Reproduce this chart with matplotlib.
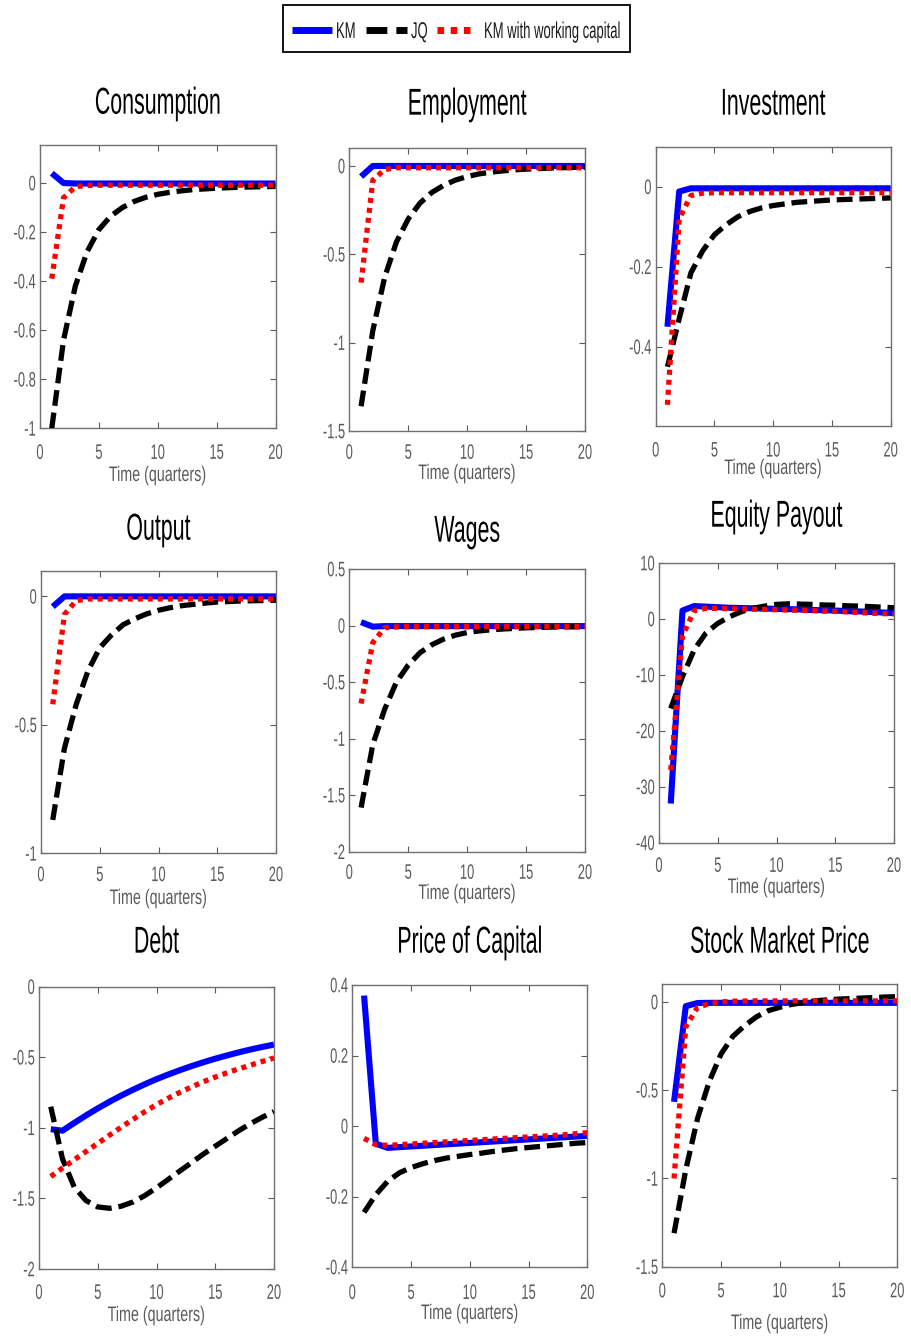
import matplotlib
matplotlib.use("Agg")
import matplotlib.pyplot as plt
from matplotlib import font_manager
from matplotlib.ticker import FuncFormatter
from matplotlib.lines import Line2D
from matplotlib.patches import Rectangle
from matplotlib.patheffects import AbstractPathEffect
from matplotlib.transforms import Affine2D

_names = {f.name for f in font_manager.fontManager.ttflist}
FONT = "Liberation Sans Narrow" if "Liberation Sans Narrow" in _names else "Liberation Sans"
plt.rcParams["font.family"] = [FONT, "DejaVu Sans"]
plt.rcParams["axes.unicode_minus"] = False

# ---------------- data ----------------
quarters = list(range(1, 21))
series_names = ["KM", "JQ", "KM with working capital"]
titles = ["Consumption", "Employment", "Investment",
          "Output", "Wages", "Equity Payout",
          "Debt", "Price of Capital", "Stock Market Price"]
x_label = "Time (quarters)"

consumption_km = [0.04, 0.0, -0.002, -0.002, -0.002, -0.002, -0.002, -0.002, -0.002, -0.002,
                  -0.002, -0.002, -0.002, -0.002, -0.002, -0.002, -0.002, -0.002, -0.002, -0.002]
consumption_jq = [-1.0, -0.64, -0.42, -0.28, -0.19, -0.135, -0.10, -0.075, -0.058, -0.046,
                  -0.038, -0.032, -0.027, -0.024, -0.021, -0.019, -0.017, -0.016, -0.015, -0.014]
consumption_wc = [-0.39, -0.06, -0.015, -0.01, -0.009, -0.009, -0.009, -0.009, -0.009, -0.009,
                  -0.009, -0.009, -0.009, -0.009, -0.009, -0.009, -0.009, -0.009, -0.009, -0.009]

employment_km = [-0.06, 0.0, 0.0, 0.0, 0.0, 0.0, 0.0, 0.0, 0.0, 0.0,
                 0.0, 0.0, 0.0, 0.0, 0.0, 0.0, 0.0, 0.0, 0.0, 0.0]
employment_jq = [-1.36, -0.93, -0.63, -0.43, -0.30, -0.21, -0.15, -0.11, -0.08, -0.06,
                 -0.045, -0.035, -0.028, -0.022, -0.018, -0.015, -0.012, -0.010, -0.008, -0.007]
employment_wc = [-0.66, -0.08, -0.02, -0.01, -0.01, -0.01, -0.01, -0.01, -0.01, -0.01,
                 -0.01, -0.01, -0.01, -0.01, -0.01, -0.01, -0.01, -0.01, -0.01, -0.01]

investment_km = [-0.35, -0.012, -0.004, -0.004, -0.004, -0.004, -0.004, -0.004, -0.004, -0.004,
                 -0.004, -0.004, -0.004, -0.004, -0.004, -0.004, -0.004, -0.004, -0.004, -0.004]
investment_jq = [-0.45, -0.33, -0.215, -0.16, -0.12, -0.095, -0.075, -0.062, -0.053, -0.047,
                 -0.043, -0.039, -0.037, -0.035, -0.033, -0.032, -0.031, -0.030, -0.029, -0.028]
investment_wc = [-0.545, -0.08, -0.022, -0.016, -0.015, -0.015, -0.015, -0.015, -0.015, -0.015,
                 -0.015, -0.015, -0.015, -0.015, -0.015, -0.015, -0.015, -0.015, -0.015, -0.015]

output_km = [-0.04, 0.0, 0.0, 0.0, 0.0, 0.0, 0.0, 0.0, 0.0, 0.0,
             0.0, 0.0, 0.0, 0.0, 0.0, 0.0, 0.0, 0.0, 0.0, 0.0]
output_jq = [-0.87, -0.59, -0.42, -0.29, -0.20, -0.15, -0.11, -0.087, -0.068, -0.054,
             -0.044, -0.036, -0.031, -0.026, -0.022, -0.020, -0.018, -0.017, -0.016, -0.015]
output_wc = [-0.42, -0.07, -0.016, -0.01, -0.01, -0.01, -0.01, -0.01, -0.01, -0.01,
             -0.01, -0.01, -0.01, -0.01, -0.01, -0.01, -0.01, -0.01, -0.01, -0.01]

wages_km = [0.03, -0.01, -0.005, -0.005, -0.005, -0.005, -0.005, -0.005, -0.005, -0.005,
            -0.005, -0.005, -0.005, -0.005, -0.005, -0.005, -0.005, -0.005, -0.005, -0.005]
wages_jq = [-1.61, -1.05, -0.74, -0.50, -0.35, -0.24, -0.17, -0.12, -0.085, -0.062,
            -0.048, -0.038, -0.031, -0.025, -0.02, -0.017, -0.014, -0.012, -0.011, -0.01]
wages_wc = [-0.69, -0.15, -0.02, -0.012, -0.01, -0.01, -0.01, -0.01, -0.01, -0.01,
            -0.01, -0.01, -0.01, -0.01, -0.01, -0.01, -0.01, -0.01, -0.01, -0.01]

payout_km = [-33.0, 1.5, 2.3, 2.2, 2.1, 2.0, 1.95, 1.9, 1.85, 1.8,
             1.75, 1.7, 1.6, 1.55, 1.5, 1.4, 1.35, 1.25, 1.15, 1.05]
payout_jq = [-16.0, -10.3, -5.5, -2.5, -0.8, 0.4, 1.3, 1.9, 2.3, 2.6,
             2.7, 2.65, 2.6, 2.5, 2.45, 2.35, 2.3, 2.2, 2.1, 2.0]
payout_wc = [-27.0, -3.0, 1.5, 1.9, 1.9, 1.85, 1.8, 1.75, 1.7, 1.65,
             1.6, 1.55, 1.5, 1.4, 1.35, 1.25, 1.15, 1.05, 0.95, 0.9]

debt_km = [-1.01, -1.02, -0.965, -0.912, -0.862, -0.815, -0.771, -0.730, -0.691, -0.655,
           -0.622, -0.591, -0.562, -0.535, -0.510, -0.487, -0.465, -0.445, -0.427, -0.41]
debt_jq = [-0.85, -1.22, -1.42, -1.515, -1.56, -1.57, -1.555, -1.525, -1.48, -1.425,
           -1.365, -1.305, -1.245, -1.185, -1.13, -1.075, -1.02, -0.97, -0.925, -0.885]
debt_wc = [-1.345, -1.285, -1.226, -1.168, -1.11, -1.052, -0.995, -0.94, -0.886, -0.835,
           -0.79, -0.748, -0.709, -0.673, -0.64, -0.61, -0.582, -0.556, -0.53, -0.505]

pk_km = [0.37, -0.05, -0.062, -0.06, -0.058, -0.056, -0.054, -0.052, -0.05, -0.048,
         -0.046, -0.044, -0.042, -0.04, -0.038, -0.036, -0.034, -0.032, -0.03, -0.028]
pk_jq = [-0.245, -0.195, -0.157, -0.133, -0.118, -0.107, -0.098, -0.091, -0.086, -0.081,
         -0.077, -0.072, -0.068, -0.064, -0.061, -0.058, -0.055, -0.052, -0.049, -0.047]
pk_wc = [-0.035, -0.053, -0.055, -0.053, -0.051, -0.049, -0.047, -0.045, -0.043, -0.041,
         -0.039, -0.037, -0.035, -0.033, -0.031, -0.029, -0.027, -0.025, -0.022, -0.019]

stock_km = [-0.566, -0.024, -0.006, -0.005, -0.005, -0.005, -0.005, -0.005, -0.005, -0.005,
            -0.005, -0.005, -0.005, -0.005, -0.005, -0.005, -0.005, -0.005, -0.005, -0.005]
stock_jq = [-1.31, -0.95, -0.66, -0.45, -0.295, -0.195, -0.135, -0.085, -0.05, -0.03,
            -0.014, -0.004, 0.006, 0.012, 0.016, 0.019, 0.022, 0.025, 0.028, 0.03]
stock_wc = [-1.0, -0.14, -0.03, -0.01, 0.0, 0.004, 0.005, 0.006, 0.006, 0.006,
            0.006, 0.006, 0.006, 0.006, 0.006, 0.006, 0.006, 0.006, 0.006, 0.006]

panel_data = [
    (consumption_km, consumption_jq, consumption_wc),
    (employment_km, employment_jq, employment_wc),
    (investment_km, investment_jq, investment_wc),
    (output_km, output_jq, output_wc),
    (wages_km, wages_jq, wages_wc),
    (payout_km, payout_jq, payout_wc),
    (debt_km, debt_jq, debt_wc),
    (pk_km, pk_jq, pk_wc),
    (stock_km, stock_jq, stock_wc),
]

y_limits = [(-1, 0.155), (-1.5, 0.1), (-0.598, 0.1),
            (-1, 0.1), (-2, 0.5), (-40, 10),
            (-2, 0), (-0.4, 0.4), (-1.5, 0.1)]
y_ticks = [[-1, -0.8, -0.6, -0.4, -0.2, 0],
           [-1.5, -1, -0.5, 0],
           [-0.4, -0.2, 0],
           [-1, -0.5, 0],
           [-2, -1.5, -1, -0.5, 0, 0.5],
           [-40, -30, -20, -10, 0, 10],
           [-2, -1.5, -1, -0.5, 0],
           [-0.4, -0.2, 0, 0.2, 0.4],
           [-1.5, -1, -0.5, 0]]
x_ticks = [0, 5, 10, 15, 20]


# ---------------- tall, narrow text rendering (text stays real text) ----------------
class Stretch(AbstractPathEffect):
    """Draw a text stretched vertically (like the reference's narrow, tall lettering).

    ay=None scales about the baseline, otherwise about that fraction of the ink box."""

    def __init__(self, sy, sx=1.0, ax=0.5, ay=None):
        super().__init__()
        self.sx, self.sy, self.ax, self.ay = sx, sy, ax, ay

    def draw_path(self, renderer, gc, tpath, affine, rgbFace=None):
        v = tpath.vertices
        if len(v):
            x0, x1 = v[:, 0].min(), v[:, 0].max()
            y0, y1 = v[:, 1].min(), v[:, 1].max()
        else:
            x0 = x1 = y0 = y1 = 0.0
        cx = x0 + self.ax * (x1 - x0)
        cy = 0.0 if self.ay is None else y0 + self.ay * (y1 - y0)
        t = (Affine2D().translate(-cx, -cy).scale(self.sx, self.sy).translate(cx, cy)
             + affine).frozen()
        renderer.draw_path(gc, tpath, t, rgbFace)


# ---------------- layout (pixels) ----------------
W, H = 911, 1341
# (x0, x1, ytop, ybot, title_baseline, xlabel_baseline, xtick_pad_pt)
boxes = [
    (40.0, 275.5, 145.0, 428.3, 122, 481, 11.5),
    (349.3, 585.0, 148.3, 431.0, 123, 479, 9.5),
    (655.7, 890.7, 146.7, 426.0, 123, 474, 11.5),
    (41.0, 276.0, 570.7, 853.3, 548, 904, 9.5),
    (349.3, 585.0, 569.0, 851.7, 550, 899, 9.0),
    (659.0, 894.0, 563.0, 842.7, 535, 893, 10.5),
    (39.0, 274.0, 986.7, 1269.0, 961, 1321, 11.0),
    (352.3, 587.3, 985.0, 1267.0, 961, 1319, 12.5),
    (662.3, 897.3, 984.3, 1266.7, 961, 1329, 11.5),
]

GRAY = "#5a5a5a"
TITLE_SIZE, TITLE_SY = 15.4, 1.75
TICK_SIZE, TICK_SY = 9.3, 1.62
XLAB_SIZE, XLAB_SY = 10.3, 1.47
LEG_SIZE, LEG_SY = 9.4, 1.75

fig = plt.figure(figsize=(W / 100, H / 100), dpi=100)
fmt = FuncFormatter(lambda v, p: "%g" % v)

styles = [
    dict(color="#0000ff", lw=4.4, ls="-", solid_capstyle="butt", zorder=2),
    dict(color="black", lw=3.8, ls=(0, (3.0, 1.3)), dash_capstyle="butt", zorder=3),
    dict(color="#ff0000", lw=3.8, ls=(0, (0.95, 0.95)), dash_capstyle="butt", zorder=4),
]

for title, data, ylim, yt, box in zip(titles, panel_data, y_limits, y_ticks, boxes):
    x0, x1, yt_px, yb_px, ty, xly, xpad = box
    hpx = yb_px - yt_px
    ax = fig.add_axes([x0 / W, 1 - yb_px / H, (x1 - x0) / W, hpx / H])
    for series, st in zip(data, styles):
        ax.plot(quarters, series, **st)
    ax.set_xlim(0, 20)
    ax.set_ylim(*ylim)
    ax.set_xticks(x_ticks)
    ax.set_yticks(yt)
    ax.xaxis.set_major_formatter(fmt)
    ax.yaxis.set_major_formatter(fmt)
    ax.tick_params(direction="in", length=4, width=0.8, color=GRAY, labelcolor=GRAY,
                   labelsize=TICK_SIZE, top=True, right=True)
    ax.tick_params(axis="x", pad=xpad)
    ax.tick_params(axis="y", pad=3)
    for lab in ax.get_xticklabels():
        lab.set_path_effects([Stretch(TICK_SY, ay=1.0)])
    for lab in ax.get_yticklabels():
        lab.set_path_effects([Stretch(TICK_SY, ay=0.5)])
    for sp in ax.spines.values():
        sp.set_color("#707070")
        sp.set_linewidth(1.0)
    t = ax.set_title(title, fontsize=TITLE_SIZE, color="black",
                     y=(yb_px - ty) / hpx, va="baseline")
    t.set_path_effects([Stretch(TITLE_SY)])
    ax.set_xlabel(x_label, fontsize=XLAB_SIZE, color=GRAY)
    ax.xaxis.set_label_coords(0.5, (yb_px - xly) / hpx)
    ax.xaxis.label.set_va("baseline")
    ax.xaxis.label.set_path_effects([Stretch(XLAB_SY)])

# ---------------- legend (box at top centre) ----------------
def fx(px):
    return px / W


def fy(py):
    return 1 - py / H


fig.add_artist(Rectangle((fx(283), fy(52)), fx(630) - fx(283), fy(5) - fy(52),
                         transform=fig.transFigure, facecolor="white",
                         edgecolor="black", linewidth=1.3, zorder=5))
leg_y = 29.5
leg_baseline = 38.0
handle_x = [(292, 332), (366, 407), (437, 475)]
text_x = [336, 411, 484]
for (hx0, hx1), tx, name, st in zip(handle_x, text_x, series_names, styles):
    kw = {k: v for k, v in st.items() if k not in ("zorder", "lw")}
    fig.add_artist(Line2D([fx(hx0), fx(hx1)], [fy(leg_y), fy(leg_y)], transform=fig.transFigure,
                          lw=5.0, zorder=6, **kw))
    txt = fig.text(fx(tx), fy(leg_baseline), name, fontsize=LEG_SIZE, color="#1a1a1a",
                   ha="left", va="baseline", zorder=6)
    txt.set_path_effects([Stretch(LEG_SY)])

fig.savefig("out.png", dpi=100)
